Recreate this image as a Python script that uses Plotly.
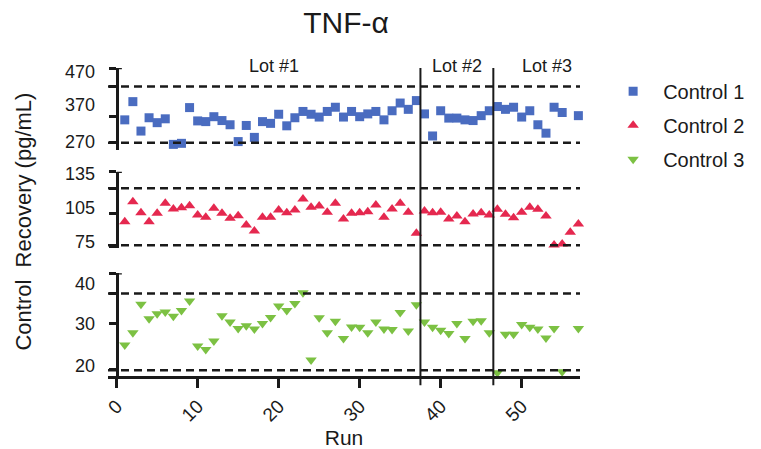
import plotly.graph_objects as go

runs = list(range(1, 58))
control1 = [333,385,301,339,325,336,263,266,368,330,
            328,342,331,319,271,317,283,328,323,349,
            316,339,357,349,341,357,369,341,357,342,
            350,357,333,359,381,363,388,350,287,359,
            338,338,333,331,345,359,371,363,369,341,
            359,319,295,369,354,None,345]
control2 = [92.7,110.3,100.6,92.7,100.1,108.9,103.9,105,106.8,98.6,
            96.6,104.5,100.1,95.7,98,89.8,84.6,96.6,96.6,103,
            100.6,103,112.6,105.4,106.5,101,108.9,95.1,100.1,100.6,
            101.5,107.4,96.6,103.9,108.9,101,82.5,102.1,100.6,101,
            95.1,97.7,92.7,99.5,100.6,98.6,103.6,99.2,96.2,101,
            105.4,103.6,97.7,72.3,73.2,83.4,90.7]
control3 = [25.1,28.1,35.0,31.5,32.7,33.1,32.1,33.5,35.8,24.9,
            24.0,26.1,32.2,30.7,29.1,29.8,29.0,30.3,31.8,34.6,
            33.5,35.2,37.8,21.5,31.7,28.1,30.9,26.7,29.5,29.4,
            28.1,30.7,29.0,28.9,33.0,28.5,34.9,30.7,29.4,28.7,
            27.9,30.3,26.7,30.9,31.0,28.1,18.4,27.7,27.7,30.1,
            29.4,29.0,26.8,29.1,18.6,None,29.1]

# control limits (dashed lines) and axis ticks for each panel
limits1 = [428, 268]
limits2 = [122, 72]
limits3 = [37.6, 19.0]
ticks1 = [481, 428, 342, 268]
ticks2 = [136.6, 122, 100, 71]
ticks3 = [42.5, 37.6, 30.3, 19.2]
labels1 = [(470, "470"), (376, "370"), (270, "270")]
labels2 = [(135, "135"), (105, "105"), (75, "75")]
labels3 = [(40, "40"), (30.3, "30"), (20, "20")]
lot_breaks = [37.5, 46.5]
lots = [(19.4, "Lot #1"), (42.0, "Lot #2"), (53.1, "Lot #3")]
xticks = [0, 10, 20, 30, 40, 50]

blue = "#4A6CC0"
red = "#E5284F"
green = "#7CC143"
ink = "#1a1a1a"
FONT = "Liberation Sans, Arial, sans-serif"
YPOS = 0.0184

fig = go.Figure()
fig.add_trace(go.Scatter(x=runs, y=control1, mode="markers", name="Control 1",
                         marker=dict(symbol="square", size=9, color=blue),
                         yaxis="y", legendgroup="a", cliponaxis=False))
fig.add_trace(go.Scatter(x=runs, y=control2, mode="markers", name="Control 2",
                         marker=dict(symbol="triangle-up", size=10, color=red),
                         yaxis="y2", legendgroup="b", cliponaxis=False))
fig.add_trace(go.Scatter(x=runs, y=control3, mode="markers", name="Control 3",
                         marker=dict(symbol="triangle-down", size=10, color=green),
                         yaxis="y3", legendgroup="c", cliponaxis=False))

shapes = []
for yref, lims in (("y", limits1), ("y2", limits2), ("y3", limits3)):
    for v in lims:
        shapes.append(dict(type="line", xref="paper", x0=0, x1=1, yref=yref, y0=v, y1=v,
                           line=dict(color=ink, width=2.5, dash="8px,5px")))
for xb in lot_breaks:
    shapes.append(dict(type="line", xref="x", x0=xb, x1=xb, yref="paper", y0=-0.03, y1=1.0,
                       line=dict(color=ink, width=2)))
# small caps on the right side of each axis segment top
for yref, tk in (("y", ticks1), ("y2", ticks2), ("y3", ticks3)):
    shapes.append(dict(type="line", xref="paper", x0=YPOS, x1=YPOS + 0.011, yref=yref,
                       y0=tk[0], y1=tk[0], line=dict(color=ink, width=2.5)))

annotations = []
for yref, labs in (("y", labels1), ("y2", labels2), ("y3", labels3)):
    for v, t in labs:
        annotations.append(dict(x=-0.023, xref="paper", y=v, yref=yref, text=t,
                                showarrow=False, xanchor="right", yanchor="middle",
                                font=dict(size=18, color=ink, family=FONT)))
for xv, t in lots:
    annotations.append(dict(x=xv, xref="x", y=1.005, yref="paper", text=t, showarrow=False,
                            xanchor="center", yanchor="middle",
                            font=dict(size=18, color=ink, family=FONT)))
annotations.append(dict(x=-0.181, xref="paper", y=0.5, yref="paper",
                        text="Control  Recovery (pg/mL)", textangle=-90, showarrow=False,
                        xanchor="center", yanchor="middle",
                        font=dict(size=22, color=ink, family=FONT)))

yax_common = dict(showline=True, linewidth=2.5, linecolor=ink, ticks="outside",
                  ticklen=7, tickwidth=2.5, tickcolor=ink, showticklabels=False,
                  showgrid=False, zeroline=False, anchor="free", position=YPOS,
                  automargin=False)

fig.update_layout(
    width=761, height=449,
    margin=dict(l=108, r=181, t=68, b=73, autoexpand=False),
    plot_bgcolor="white", paper_bgcolor="white",
    font=dict(family=FONT, color=ink),
    title=dict(text="TNF-α", x=0.4547, xanchor="center", y=0.951, yanchor="middle",
               font=dict(size=30, color=ink, family=FONT)),
    xaxis=dict(domain=[0, 1], range=[-1.07, 57.2], anchor="y3", automargin=False,
               showline=True, linewidth=2.5, linecolor=ink,
               ticks="outside", ticklen=9, tickwidth=2.5, tickcolor=ink,
               tickvals=xticks, tickangle=-45, tickfont=dict(size=19),
               showgrid=False, zeroline=False,
               title=dict(text="Run", font=dict(size=21), standoff=6)),
    yaxis=dict(domain=[0.7338, 1.0], range=[247, 481], tickvals=ticks1, **yax_common),
    yaxis2=dict(domain=[0.4156, 0.6633], range=[69.6, 136.6], tickvals=ticks2, **yax_common),
    yaxis3=dict(domain=[0.0, 0.3334], range=[17.6, 42.5], tickvals=ticks3, **yax_common),
    shapes=shapes,
    annotations=annotations,
    showlegend=True,
    legend=dict(x=1.049, y=0.988, xanchor="left", yanchor="top",
                font=dict(size=20, color=ink), itemwidth=50,
                tracegroupgap=5, bgcolor="rgba(0,0,0,0)"),
)

fig.write_html("out.html")
